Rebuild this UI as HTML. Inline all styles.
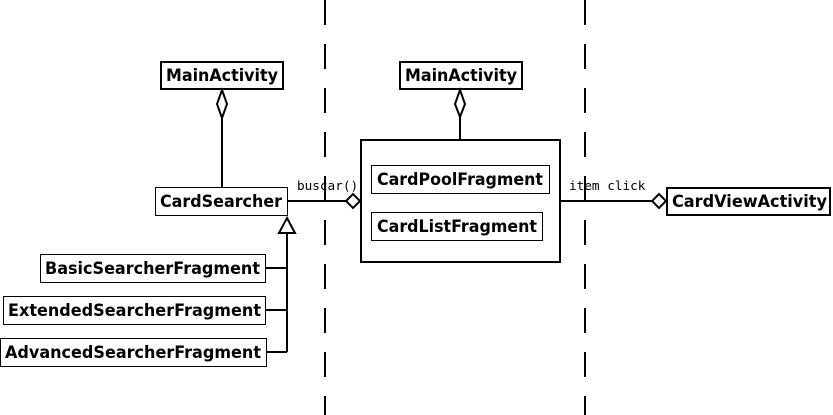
<!DOCTYPE html>
<html><head><style>body{margin:0;background:#fff}svg{display:block}</style></head><body>
<svg width="833" height="415" xmlns="http://www.w3.org/2000/svg" font-family="'DejaVu Sans', 'Liberation Sans', sans-serif">
<g stroke="#000" stroke-width="2" stroke-dasharray="25 19" fill="none">
<line x1="325" y1="0" x2="325" y2="415"/>
<line x1="585" y1="0" x2="585" y2="415"/>
</g>
<g fill="#fff" stroke="#000">
<rect x="161" y="62" width="122" height="27" stroke-width="2"/>
<rect x="400" y="62" width="122" height="27" stroke-width="2"/>
<rect x="361" y="140" width="199" height="122" stroke-width="2"/>
<rect x="667" y="188" width="163" height="27" stroke-width="2"/>
<rect x="155.5" y="187.5" width="132" height="28" stroke-width="1"/>
<rect x="40.5" y="254.5" width="225" height="28" stroke-width="1"/>
<rect x="3.5" y="296.5" width="262" height="28" stroke-width="1"/>
<rect x="0.5" y="338.5" width="266" height="28" stroke-width="1"/>
<rect x="371.5" y="165.5" width="178" height="28" stroke-width="1"/>
<rect x="371.5" y="212.5" width="171" height="28" stroke-width="1"/>
</g>
<g stroke="#000" stroke-width="2" fill="none">
<line x1="222" y1="118" x2="222" y2="187"/>
<line x1="460" y1="117" x2="460" y2="140"/>
<line x1="288" y1="201" x2="346" y2="201"/>
<line x1="560" y1="201" x2="652" y2="201"/>
<line x1="287" y1="233" x2="287" y2="352"/>
<line x1="266" y1="268" x2="287" y2="268"/>
<line x1="266" y1="310" x2="287" y2="310"/>
<line x1="267" y1="352" x2="287" y2="352"/>
</g>
<g stroke="#000" stroke-width="2" fill="#fff">
<polygon points="222,90 227,104 222,118 217,104"/>
<polygon points="460,90 465,104 460,117 455,104"/>
<polygon points="346,201 353,194 360,201 353,208"/>
<polygon points="652,201 659,194 666,201 659,208"/>
<polygon points="287,218 295,233 279,233"/>
</g>
<g font-weight="bold" font-size="16.5" lengthAdjust="spacingAndGlyphs">
<text x="166" y="81" textLength="112" lengthAdjust="spacingAndGlyphs">MainActivity</text>
<text x="405" y="81" textLength="112" lengthAdjust="spacingAndGlyphs">MainActivity</text>
<text x="160" y="207" textLength="122" lengthAdjust="spacingAndGlyphs">CardSearcher</text>
<text x="45" y="274" textLength="215" lengthAdjust="spacingAndGlyphs">BasicSearcherFragment</text>
<text x="8" y="316" textLength="253" lengthAdjust="spacingAndGlyphs">ExtendedSearcherFragment</text>
<text x="5" y="358" textLength="256" lengthAdjust="spacingAndGlyphs">AdvancedSearcherFragment</text>
<text x="377" y="185" textLength="166" lengthAdjust="spacingAndGlyphs">CardPoolFragment</text>
<text x="377" y="232" textLength="160" lengthAdjust="spacingAndGlyphs">CardListFragment</text>
<text x="672" y="207" textLength="155" lengthAdjust="spacingAndGlyphs">CardViewActivity</text>
</g>
<g font-family="'DejaVu Sans Mono', 'Liberation Mono', monospace" font-size="12.7">
<text x="297" y="190">buscar()</text>
<text x="569" y="190">item click</text>
</g>
</svg>
</body></html>
